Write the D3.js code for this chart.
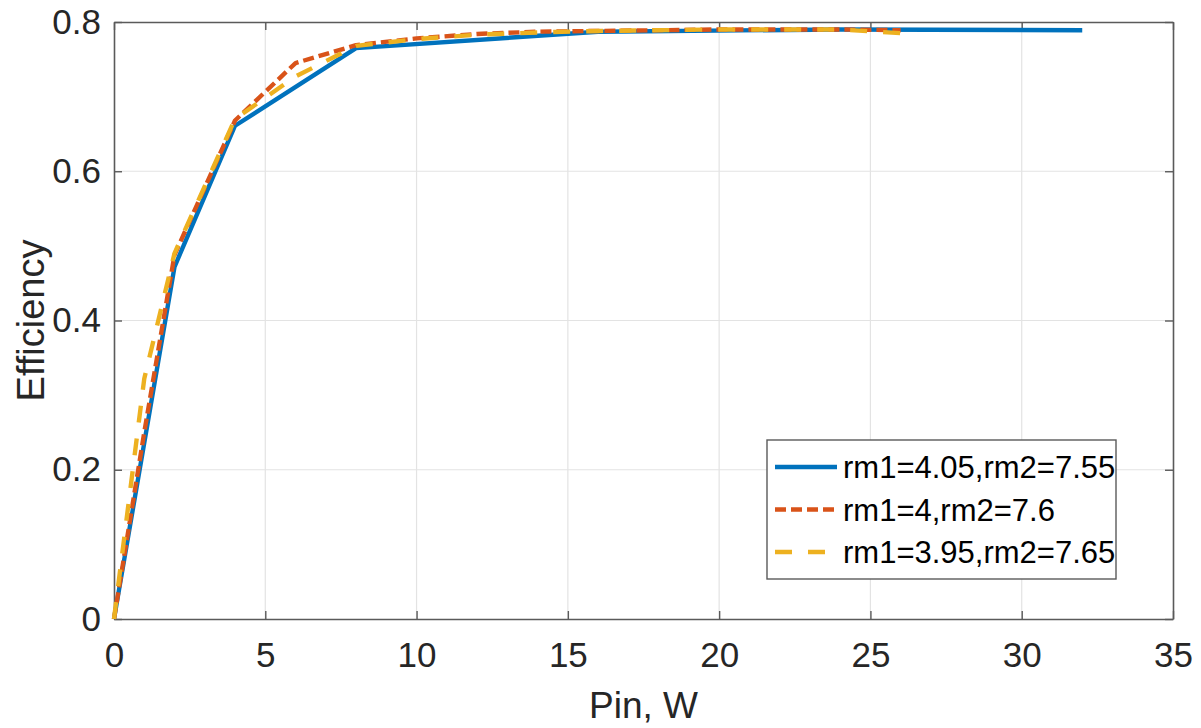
<!DOCTYPE html>
<html><head><meta charset="utf-8">
<script src="https://cdn.jsdelivr.net/npm/d3@7"></script>
<style>body{margin:0;background:#fff}svg{display:block}text{font-family:"Liberation Sans",Arial,sans-serif}</style>
</head><body><svg id="c" width="1201" height="728"></svg>
<script>
const xTicks = [0,5,10,15,20,25,30,35];
const yTicks = [0,0.2,0.4,0.6,0.8];
const seriesNames = ["rm1=4.05,rm2=7.55","rm1=4,rm2=7.6","rm1=3.95,rm2=7.65"];
const blueX = [0,2,4,8,16,24,32];
const blueY = [0,0.472,0.661,0.765,0.787,0.790,0.789];
const orangeX = [0,1,2,4,6,8,10,12,14,16,20,24,26];
const orangeY = [0,0.25,0.488,0.668,0.745,0.769,0.778,0.784,0.787,0.788,0.790,0.790,0.789];
const yellowX = [0,1,2,4,6,8,10,12,14,16,20,24,26];
const yellowY = [0,0.322,0.49,0.67,0.727,0.768,0.777,0.783,0.786,0.788,0.790,0.790,0.785];
const colors = ["#0072BD","#D95319","#EDB120"];
const dashes = [null,"11,5","17,16"];

const svg = d3.select("#c");
const m = {l:114,r:28,t:22,b:109};
const W = 1201, H = 728;
const x = d3.scaleLinear().domain([0,35]).range([m.l, W-m.r]);
const y = d3.scaleLinear().domain([0,0.8]).range([H-m.b, m.t]);

// grid
const g = svg.append("g");
g.selectAll(".gx").data(xTicks.slice(1,-1)).enter().append("line")
 .attr("x1",d=>x(d)).attr("x2",d=>x(d)).attr("y1",y(0)).attr("y2",y(0.8))
 .attr("stroke","#e3e3e3").attr("stroke-width",1.2);
g.selectAll(".gy").data(yTicks.slice(1,-1)).enter().append("line")
 .attr("y1",d=>y(d)).attr("y2",d=>y(d)).attr("x1",x(0)).attr("x2",x(35))
 .attr("stroke","#e3e3e3").attr("stroke-width",1.2);

// axes with inside ticks
const axCol = "#5a5a5a";
const fmtY = d=> d===0 ? "0" : d3.format(".1f")(d);
const axB = svg.append("g").attr("transform",`translate(0,${y(0)})`)
 .call(d3.axisBottom(x).tickValues(xTicks).tickSizeInner(-8).tickSizeOuter(0).tickPadding(23));
const axT = svg.append("g").attr("transform",`translate(0,${y(0.8)})`)
 .call(d3.axisTop(x).tickValues(xTicks).tickSizeInner(-8).tickSizeOuter(0).tickFormat(""));
const axL = svg.append("g").attr("transform",`translate(${x(0)},0)`)
 .call(d3.axisLeft(y).tickValues(yTicks).tickSizeInner(-8).tickSizeOuter(0).tickPadding(13).tickFormat(fmtY));
const axR = svg.append("g").attr("transform",`translate(${x(35)},0)`)
 .call(d3.axisRight(y).tickValues(yTicks).tickSizeInner(-8).tickSizeOuter(0).tickFormat(""));
[axB,axT,axL,axR].forEach(a=>{
  a.select(".domain").attr("stroke",axCol).attr("stroke-width",1.6);
  a.selectAll(".tick line").attr("stroke",axCol).attr("stroke-width",1.4);
  a.selectAll("text").attr("fill","#262626").style("font-size","35px");
});

// lines
const data = [[blueX,blueY],[orangeX,orangeY],[yellowX,yellowY]];
const line = d3.line().x(d=>x(d[0])).y(d=>y(d[1]));
data.forEach((s,i)=>{
  const pts = s[0].map((v,k)=>[v,s[1][k]]);
  svg.append("path").datum(pts).attr("d",line).attr("fill","none")
   .attr("stroke",colors[i]).attr("stroke-width",4.4)
   .attr("stroke-dasharray",dashes[i]).attr("stroke-linejoin","round");
});

// axis labels
svg.append("text").attr("x",x(17.5)).attr("y",718).attr("text-anchor","middle")
 .attr("fill","#262626").style("font-size","37px").text("Pin, W");
svg.append("text").attr("transform",`translate(44,${(y(0)+y(0.8))/2}) rotate(-90)`)
 .attr("text-anchor","middle").attr("fill","#262626").style("font-size","38px").text("Efficiency");

// legend
const lg = svg.append("g");
lg.append("rect").attr("x",767).attr("y",440).attr("width",349).attr("height",139)
 .attr("fill","#fff").attr("stroke","#5a5a5a").attr("stroke-width",1.4);
seriesNames.forEach((n,i)=>{
  const cy = 467 + i*42.5;
  lg.append("line").attr("x1",775).attr("x2",837).attr("y1",cy).attr("y2",cy)
   .attr("stroke",colors[i]).attr("stroke-width",4.4).attr("stroke-dasharray",dashes[i]);
  lg.append("text").attr("x",843).attr("y",cy+11).attr("fill","#000")
   .style("font-size","31px").text(n);
});
</script></body></html>
